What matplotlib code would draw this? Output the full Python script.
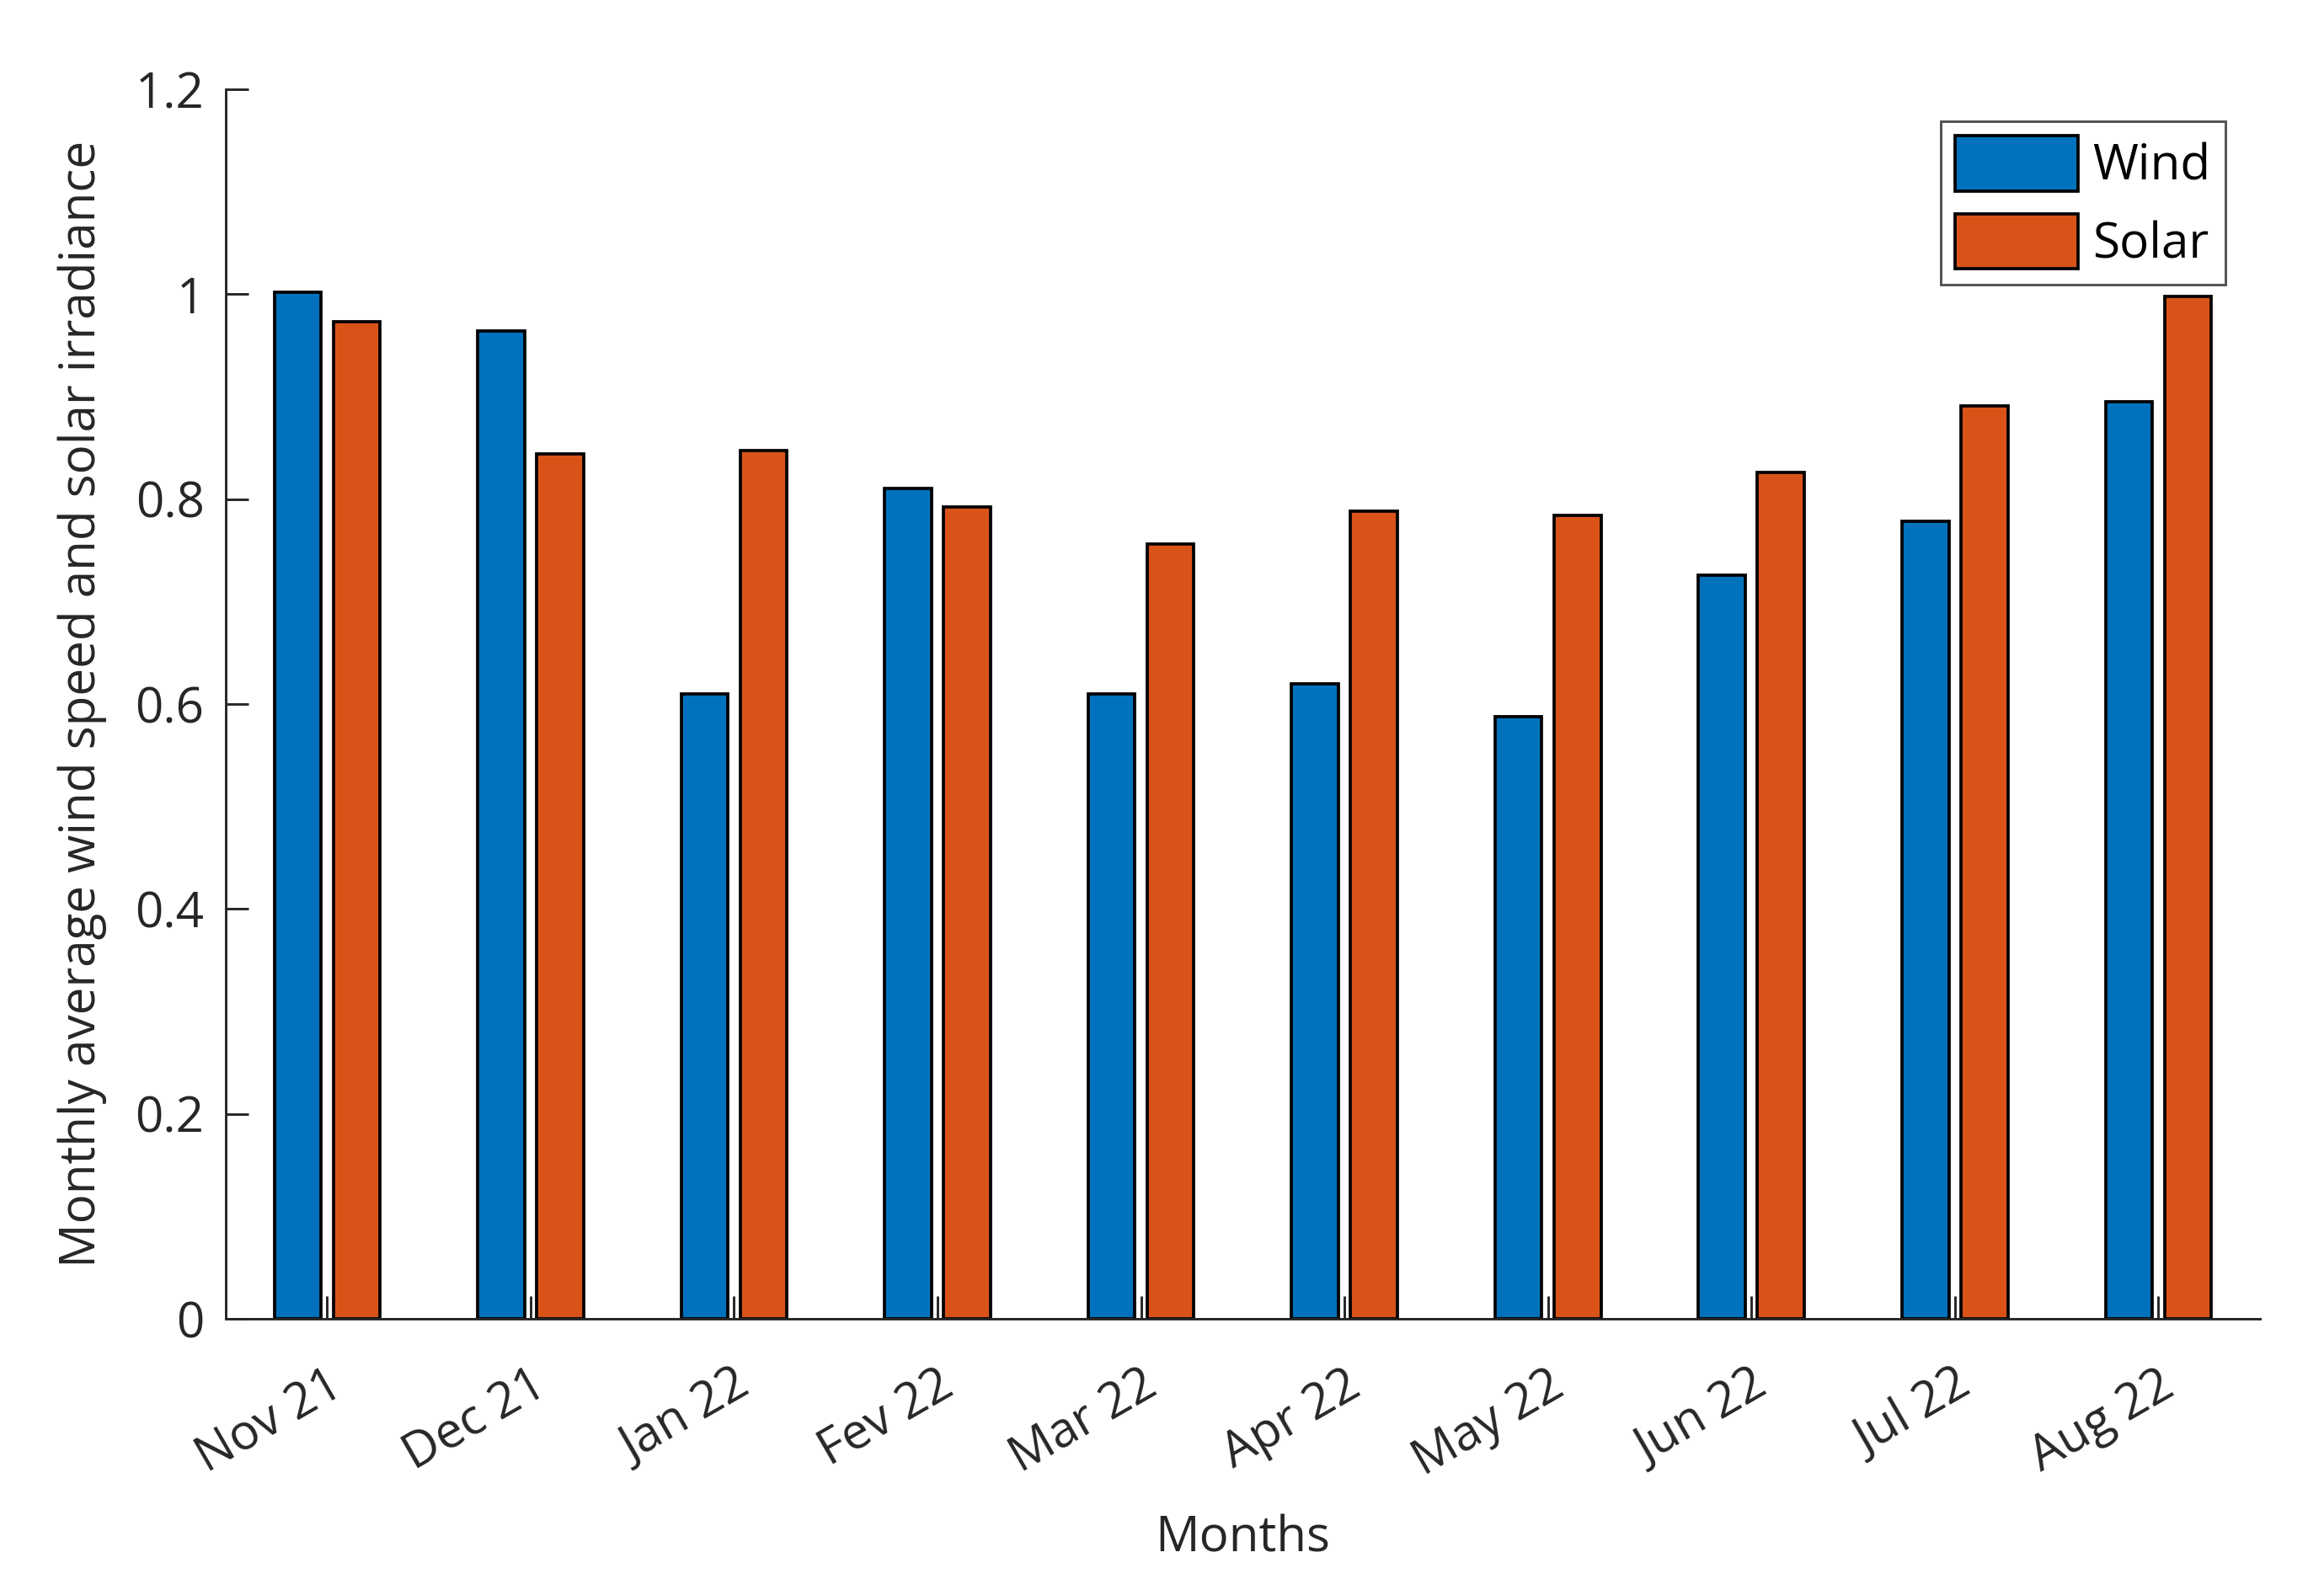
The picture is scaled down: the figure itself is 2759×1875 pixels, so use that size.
import numpy as np
import matplotlib
matplotlib.use('Agg')
import matplotlib.pyplot as plt

# monthly values
months = ['Nov 21', 'Dec 21', 'Jan 22', 'Fev 22', 'Mar 22', 'Apr 22',
          'May 22', 'Jun 22', 'Jul 22', 'Aug 22']
wind = [1.002, 0.964, 0.610, 0.810, 0.610, 0.620, 0.588, 0.726, 0.778, 0.895]
solar = [0.973, 0.844, 0.847, 0.792, 0.756, 0.788, 0.784, 0.826, 0.891, 0.998]

plt.rcParams['font.family'] = ['Open Sans', 'DejaVu Sans']
txt = '#262626'

fig = plt.figure(figsize=(2759 / 300, 1875 / 300), dpi=300)
ax = fig.add_axes([0.097, 0.1648, 0.8755, 0.7787])

x = np.arange(len(months))
w = 0.23
ax.bar(x - 0.145, wind, w, color='#0072BD', edgecolor='black', linewidth=0.9, label='Wind')
ax.bar(x + 0.145, solar, w, color='#D95319', edgecolor='black', linewidth=0.9, label='Solar')

ax.set_xlim(-0.5, 9.5)
ax.set_ylim(0, 1.2)
ax.set_yticks([0, 0.2, 0.4, 0.6, 0.8, 1, 1.2])
ax.set_yticklabels(['0', '0.2', '0.4', '0.6', '0.8', '1', '1.2'])
ax.set_xticks(x)
ax.set_xticklabels(months, rotation=30, ha='right', rotation_mode='anchor')

for s in ['top', 'right']:
    ax.spines[s].set_visible(False)
for s in ['left', 'bottom']:
    ax.spines[s].set_linewidth(0.7)
    ax.spines[s].set_color(txt)

ax.tick_params(axis='both', direction='in', length=6.5, width=0.7, color=txt,
               labelsize=14, labelcolor=txt)
ax.tick_params(axis='x', pad=12)
ax.tick_params(axis='y', pad=6)

ax.set_xlabel('Months', fontsize=14, color=txt, labelpad=8)
ax.set_ylabel('Monthly average wind speed and solar irradiance', fontsize=14, color=txt, labelpad=8)

leg = ax.legend(loc='upper right', bbox_to_anchor=(0.983, 0.974), fontsize=14, frameon=True,
                fancybox=False, edgecolor=txt, handlelength=2.5, handleheight=1.35,
                handletextpad=0.3, borderpad=0.3, labelspacing=0.45, borderaxespad=0)
leg.get_frame().set_linewidth(0.7)

fig.savefig('out.png', dpi=300)
